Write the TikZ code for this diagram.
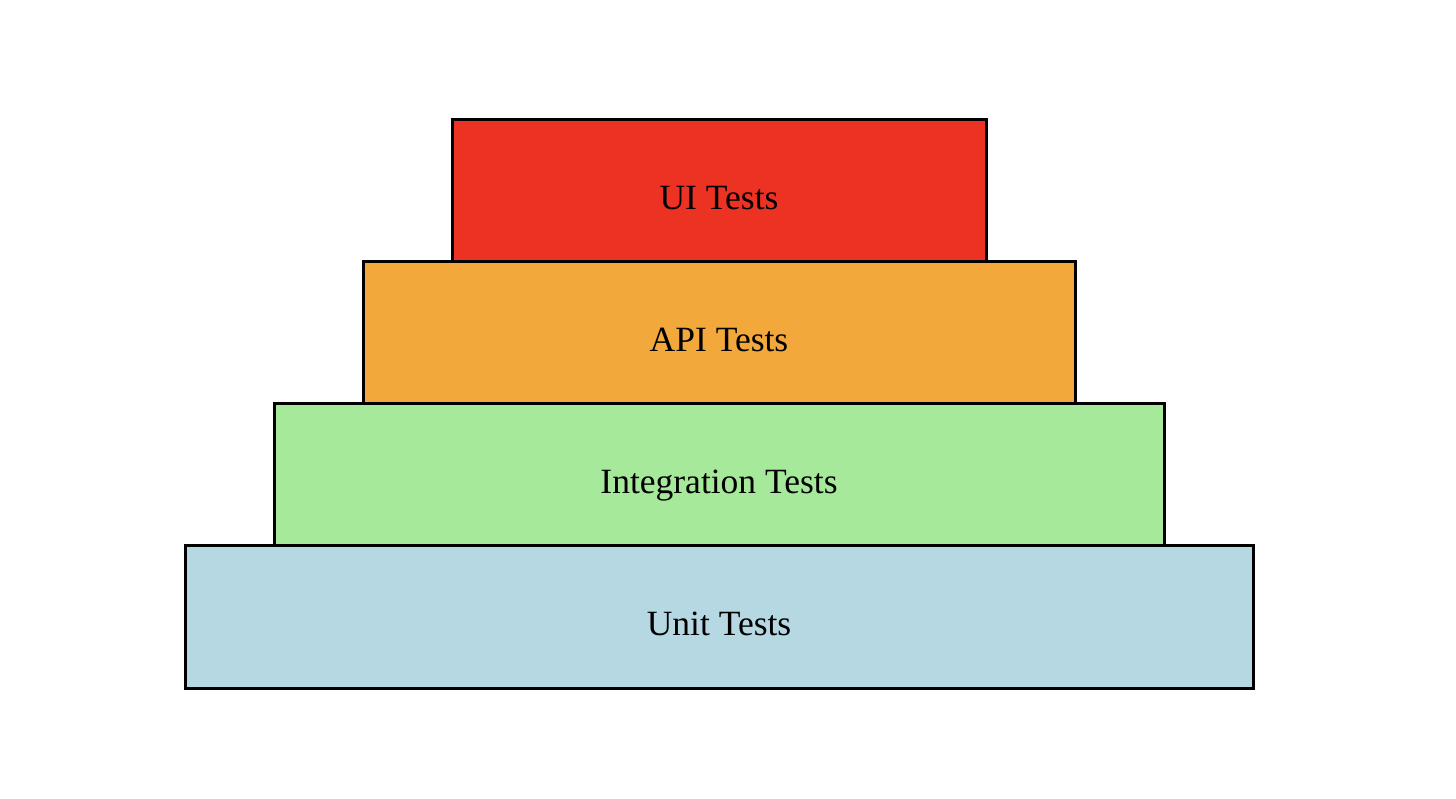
\documentclass[tikz,border=0pt]{standalone}
\usepackage{fontspec}
\setmainfont{Liberation Serif}
\definecolor{uired}{HTML}{EC3323}
\definecolor{apiorange}{HTML}{F2A83B}
\definecolor{intgreen}{HTML}{A6E99A}
\definecolor{unitblue}{HTML}{B5D8E3}
\tikzset{
  layer/.style={draw=black, line width=3pt},
  lbl/.style={inner sep=0pt, text=black, anchor=base, font=\fontsize{35.5}{40}\selectfont}
}
\begin{document}
\begin{tikzpicture}[x=1pt,y=-1pt]
\useasboundingbox (0,0) rectangle (1456,798);
\draw[layer, fill=unitblue] (185,545) rectangle (1253,688);
\node[lbl] (unit) at (719,635) {Unit Tests};
\draw[layer, fill=intgreen] (274,403) rectangle (1164,545);
\node[lbl] (int) at (719,493) {Integration Tests};
\draw[layer, fill=apiorange] (363,261) rectangle (1075,403);
\node[lbl] (api) at (719,351) {API Tests};
\draw[layer, fill=uired] (452,119) rectangle (986,261);
\node[lbl] (ui) at (719,209) {UI Tests};
\end{tikzpicture}
\end{document}
